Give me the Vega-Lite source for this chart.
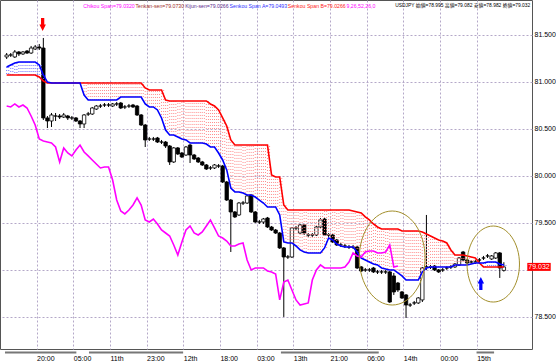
{
"$schema": "https://vega.github.io/schema/vega-lite/v6.json",
"width": 532, "height": 349,
"autosize": {"type": "none"},
"padding": {"left": 0, "top": 0, "right": 24, "bottom": 15},
"background": "white",
"config": {
 "view": {"stroke": "#555", "strokeWidth": 1},
 "axis": {"grid": true, "gridColor": "#b4a8c8", "gridDash": [2,2], "gridWidth": 1, "ticks": false, "domain": false,
  "labelFont": "Liberation Sans", "labelFontSize": 7, "labelColor": "#000", "labelFlush": false, "labelOverlap": false}
},
"datasets": {
"bars": [
{"i":0,"o":81.266,"h":81.308,"l":81.244,"c":81.287,"a":81.159,"b":81.074,"k":80.744},
{"i":1,"o":81.287,"h":81.308,"l":81.266,"c":81.287,"a":81.181,"b":81.074,"k":80.734},
{"i":2,"o":81.266,"h":81.340,"l":81.255,"c":81.319,"a":81.202,"b":81.074,"k":80.766},
{"i":3,"o":81.319,"h":81.329,"l":81.276,"c":81.298,"a":81.212,"b":81.074,"k":80.734},
{"i":4,"o":81.298,"h":81.329,"l":81.287,"c":81.319,"a":81.212,"b":81.074,"k":80.755},
{"i":5,"o":81.329,"h":81.340,"l":81.298,"c":81.308,"a":81.212,"b":81.074,"k":80.723},
{"i":6,"o":81.308,"h":81.383,"l":81.298,"c":81.361,"a":81.212,"b":81.074,"k":80.638},
{"i":7,"o":81.351,"h":81.393,"l":81.340,"c":81.372,"a":81.212,"b":81.074,"k":80.542},
{"i":8,"o":81.372,"h":81.404,"l":81.340,"c":81.361,"a":81.181,"b":81.053,"k":80.393},
{"i":9,"o":81.361,"h":81.468,"l":80.595,"c":80.617,"a":81.074,"b":81.010,"k":80.372},
{"i":10,"o":80.617,"h":80.638,"l":80.510,"c":80.585,"a":80.999,"b":80.989,"k":80.361},
{"i":11,"o":80.585,"h":80.670,"l":80.521,"c":80.649,"a":80.989,"b":80.989,"k":80.351},
{"i":12,"o":80.638,"h":80.670,"l":80.585,"c":80.638,"a":80.989,"b":80.989,"k":80.308},
{"i":13,"o":80.638,"h":80.659,"l":80.606,"c":80.627,"a":80.989,"b":80.989,"k":80.149},
{"i":14,"o":80.627,"h":80.670,"l":80.617,"c":80.649,"a":80.989,"b":80.989,"k":80.298},
{"i":15,"o":80.638,"h":80.649,"l":80.595,"c":80.617,"a":80.989,"b":80.989,"k":80.244},
{"i":16,"o":80.617,"h":80.638,"l":80.595,"c":80.617,"a":80.989,"b":80.989,"k":80.213},
{"i":17,"o":80.617,"h":80.627,"l":80.574,"c":80.585,"a":80.989,"b":80.989,"k":80.276},
{"i":18,"o":80.585,"h":80.595,"l":80.510,"c":80.553,"a":80.989,"b":80.989,"k":80.329},
{"i":19,"o":80.553,"h":80.659,"l":80.510,"c":80.649,"a":80.861,"b":80.989,"k":80.255},
{"i":20,"o":80.659,"h":80.681,"l":80.638,"c":80.659,"a":80.808,"b":80.989,"k":80.213},
{"i":21,"o":80.659,"h":80.734,"l":80.649,"c":80.723,"a":80.808,"b":80.989,"k":80.170},
{"i":22,"o":80.712,"h":80.755,"l":80.702,"c":80.744,"a":80.808,"b":80.989,"k":80.127},
{"i":23,"o":80.744,"h":80.766,"l":80.723,"c":80.744,"a":80.808,"b":80.989,"k":80.085},
{"i":24,"o":80.755,"h":80.776,"l":80.734,"c":80.755,"a":80.808,"b":80.989,"k":80.095},
{"i":25,"o":80.755,"h":80.776,"l":80.734,"c":80.755,"a":80.808,"b":80.989,"k":80.095},
{"i":26,"o":80.744,"h":80.776,"l":80.734,"c":80.766,"a":80.808,"b":80.989,"k":79.957},
{"i":27,"o":80.766,"h":80.787,"l":80.744,"c":80.766,"a":80.808,"b":80.989,"k":79.744},
{"i":28,"o":80.776,"h":80.787,"l":80.712,"c":80.723,"a":80.840,"b":80.989,"k":79.627},
{"i":29,"o":80.734,"h":80.755,"l":80.712,"c":80.734,"a":80.840,"b":80.989,"k":79.596},
{"i":30,"o":80.744,"h":80.766,"l":80.723,"c":80.744,"a":80.840,"b":80.989,"k":79.638},
{"i":31,"o":80.755,"h":80.766,"l":80.723,"c":80.734,"a":80.840,"b":80.989,"k":79.691},
{"i":32,"o":80.744,"h":80.755,"l":80.638,"c":80.649,"a":80.840,"b":80.989,"k":79.766},
{"i":33,"o":80.649,"h":80.659,"l":80.532,"c":80.542,"a":80.840,"b":80.989,"k":79.691},
{"i":34,"o":80.542,"h":80.553,"l":80.308,"c":80.383,"a":80.766,"b":80.936,"k":79.532},
{"i":35,"o":80.393,"h":80.415,"l":80.372,"c":80.393,"a":80.734,"b":80.915,"k":79.510},
{"i":36,"o":80.393,"h":80.415,"l":80.372,"c":80.393,"a":80.734,"b":80.915,"k":79.542},
{"i":37,"o":80.404,"h":80.415,"l":80.351,"c":80.361,"a":80.702,"b":80.915,"k":79.489},
{"i":38,"o":80.361,"h":80.383,"l":80.340,"c":80.361,"a":80.617,"b":80.915,"k":79.425},
{"i":39,"o":80.361,"h":80.372,"l":80.298,"c":80.319,"a":80.489,"b":80.808,"k":79.393},
{"i":40,"o":80.319,"h":80.329,"l":80.117,"c":80.149,"a":80.436,"b":80.798,"k":79.361},
{"i":41,"o":80.149,"h":80.308,"l":80.138,"c":80.298,"a":80.436,"b":80.798,"k":79.266},
{"i":42,"o":80.298,"h":80.308,"l":80.223,"c":80.234,"a":80.415,"b":80.798,"k":79.159},
{"i":43,"o":80.244,"h":80.255,"l":80.191,"c":80.202,"a":80.393,"b":80.798,"k":79.298},
{"i":44,"o":80.223,"h":80.319,"l":80.213,"c":80.308,"a":80.383,"b":80.798,"k":79.425},
{"i":45,"o":80.329,"h":80.340,"l":80.138,"c":80.223,"a":80.351,"b":80.798,"k":79.468},
{"i":46,"o":80.223,"h":80.234,"l":80.170,"c":80.181,"a":80.351,"b":80.798,"k":79.393},
{"i":47,"o":80.191,"h":80.202,"l":80.138,"c":80.149,"a":80.351,"b":80.798,"k":79.372},
{"i":48,"o":80.149,"h":80.160,"l":80.106,"c":80.117,"a":80.351,"b":80.798,"k":79.404},
{"i":49,"o":80.117,"h":80.127,"l":80.064,"c":80.074,"a":80.340,"b":80.798,"k":79.468},
{"i":50,"o":80.085,"h":80.106,"l":80.064,"c":80.085,"a":80.308,"b":80.766,"k":79.532},
{"i":51,"o":80.085,"h":80.127,"l":80.074,"c":80.117,"a":80.308,"b":80.744,"k":79.447},
{"i":52,"o":80.106,"h":80.127,"l":80.085,"c":80.106,"a":80.244,"b":80.702,"k":79.361},
{"i":53,"o":80.106,"h":80.117,"l":79.925,"c":79.936,"a":80.170,"b":80.617,"k":79.340},
{"i":54,"o":79.936,"h":79.947,"l":79.734,"c":79.744,"a":80.064,"b":80.532,"k":79.308},
{"i":55,"o":79.744,"h":79.755,"l":79.191,"c":79.617,"a":79.872,"b":80.383,"k":79.255},
{"i":56,"o":79.617,"h":79.627,"l":79.553,"c":79.564,"a":79.830,"b":80.329,"k":79.255},
{"i":57,"o":79.585,"h":79.723,"l":79.574,"c":79.712,"a":79.830,"b":80.329,"k":79.276},
{"i":58,"o":79.712,"h":79.734,"l":79.691,"c":79.712,"a":79.819,"b":80.329,"k":79.287},
{"i":59,"o":79.712,"h":79.798,"l":79.702,"c":79.787,"a":79.798,"b":80.329,"k":79.106},
{"i":60,"o":79.798,"h":79.808,"l":79.606,"c":79.617,"a":79.798,"b":80.329,"k":79.000},
{"i":61,"o":79.617,"h":79.627,"l":79.500,"c":79.510,"a":79.776,"b":80.329,"k":79.021},
{"i":62,"o":79.510,"h":79.532,"l":79.489,"c":79.510,"a":79.744,"b":80.329,"k":79.021},
{"i":63,"o":79.510,"h":79.553,"l":79.489,"c":79.542,"a":79.712,"b":80.329,"k":79.021},
{"i":64,"o":79.553,"h":79.564,"l":79.447,"c":79.457,"a":79.670,"b":80.329,"k":78.989},
{"i":65,"o":79.457,"h":79.468,"l":79.415,"c":79.425,"a":79.670,"b":80.010,"k":78.979},
{"i":66,"o":79.425,"h":79.436,"l":79.383,"c":79.393,"a":79.670,"b":79.989,"k":78.957},
{"i":67,"o":79.393,"h":79.404,"l":79.223,"c":79.234,"a":79.585,"b":79.989,"k":78.681},
{"i":68,"o":79.234,"h":79.244,"l":78.500,"c":79.138,"a":79.298,"b":79.691,"k":78.872},
{"i":69,"o":79.138,"h":79.159,"l":79.117,"c":79.138,"a":79.287,"b":79.638,"k":78.893},
{"i":70,"o":79.138,"h":79.457,"l":79.127,"c":79.447,"a":79.287,"b":79.638,"k":78.787},
{"i":71,"o":79.447,"h":79.468,"l":79.425,"c":79.447,"a":79.255,"b":79.638,"k":78.681},
{"i":72,"o":79.393,"h":79.489,"l":79.383,"c":79.479,"a":79.213,"b":79.638,"k":78.627},
{"i":73,"o":79.479,"h":79.489,"l":79.372,"c":79.393,"a":79.191,"b":79.638,"k":78.638},
{"i":74,"o":79.372,"h":79.393,"l":79.351,"c":79.372,"a":79.181,"b":79.638,"k":78.649},
{"i":75,"o":79.372,"h":79.393,"l":79.351,"c":79.372,"a":79.181,"b":79.638,"k":78.893},
{"i":76,"o":79.372,"h":79.468,"l":79.361,"c":79.457,"a":79.181,"b":79.638,"k":79.000},
{"i":77,"o":79.457,"h":79.553,"l":79.447,"c":79.532,"a":79.181,"b":79.638,"k":79.053},
{"i":78,"o":79.542,"h":79.553,"l":79.361,"c":79.372,"a":79.234,"b":79.638,"k":79.021},
{"i":79,"o":79.372,"h":79.393,"l":79.351,"c":79.372,"a":79.340,"b":79.638,"k":79.021},
{"i":80,"o":79.372,"h":79.383,"l":79.287,"c":79.298,"a":79.319,"b":79.638,"k":79.021},
{"i":81,"o":79.319,"h":79.330,"l":79.255,"c":79.266,"a":79.276,"b":79.638,"k":79.021},
{"i":82,"o":79.266,"h":79.287,"l":79.244,"c":79.266,"a":79.255,"b":79.638,"k":79.021},
{"i":83,"o":79.255,"h":79.276,"l":79.234,"c":79.255,"a":79.244,"b":79.638,"k":79.032},
{"i":84,"o":79.244,"h":79.266,"l":79.223,"c":79.244,"a":79.244,"b":79.638,"k":79.085},
{"i":85,"o":79.244,"h":79.266,"l":79.223,"c":79.244,"a":79.244,"b":79.627,"k":79.181},
{"i":86,"o":79.244,"h":79.255,"l":79.010,"c":79.021,"a":79.191,"b":79.617,"k":79.149},
{"i":87,"o":79.032,"h":79.042,"l":78.979,"c":78.989,"a":79.127,"b":79.606,"k":79.138},
{"i":88,"o":79.000,"h":79.021,"l":78.979,"c":79.000,"a":79.106,"b":79.564,"k":79.191},
{"i":89,"o":79.000,"h":79.021,"l":78.979,"c":79.000,"a":79.085,"b":79.532,"k":79.202},
{"i":90,"o":79.021,"h":79.032,"l":78.968,"c":78.979,"a":79.063,"b":79.489,"k":79.202},
{"i":91,"o":78.979,"h":79.000,"l":78.957,"c":78.979,"a":79.053,"b":79.457,"k":79.181},
{"i":92,"o":78.979,"h":79.000,"l":78.957,"c":78.979,"a":79.021,"b":79.436,"k":79.181},
{"i":93,"o":78.979,"h":79.000,"l":78.957,"c":78.979,"a":79.010,"b":79.436,"k":79.191},
{"i":94,"o":78.979,"h":78.989,"l":78.649,"c":78.659,"a":79.000,"b":79.436,"k":79.266},
{"i":95,"o":78.936,"h":78.968,"l":78.734,"c":78.766,"a":79.000,"b":79.436,"k":79.032},
{"i":96,"o":78.861,"h":78.872,"l":78.766,"c":78.787,"a":78.968,"b":79.436,"k":79.042},
{"i":97,"o":78.766,"h":78.776,"l":78.691,"c":78.702,"a":78.936,"b":79.415},
{"i":98,"o":78.734,"h":78.744,"l":78.489,"c":78.627,"a":78.893,"b":79.415},
{"i":99,"o":78.627,"h":78.649,"l":78.606,"c":78.627,"a":78.893,"b":79.415},
{"i":100,"o":78.649,"h":78.670,"l":78.627,"c":78.649,"a":78.893,"b":79.415},
{"i":101,"o":78.649,"h":78.712,"l":78.638,"c":78.702,"a":78.893,"b":79.415},
{"i":102,"o":78.681,"h":79.032,"l":78.659,"c":79.021,"a":78.979,"b":79.404},
{"i":103,"o":79.032,"h":79.585,"l":79.000,"c":79.032,"a":79.021,"b":79.383},
{"i":104,"o":79.032,"h":79.053,"l":79.010,"c":79.032,"a":79.032,"b":79.361},
{"i":105,"o":79.042,"h":79.053,"l":78.989,"c":79.000,"a":79.032,"b":79.340},
{"i":106,"o":79.000,"h":79.010,"l":78.968,"c":78.979,"a":79.032,"b":79.319},
{"i":107,"o":79.000,"h":79.021,"l":78.979,"c":79.000,"a":79.032,"b":79.308},
{"i":108,"o":79.021,"h":79.042,"l":79.000,"c":79.021,"a":79.032,"b":79.287},
{"i":109,"o":79.032,"h":79.053,"l":79.010,"c":79.032,"a":79.032,"b":79.213},
{"i":110,"o":79.032,"h":79.074,"l":79.021,"c":79.063,"a":79.053,"b":79.159},
{"i":111,"o":79.053,"h":79.138,"l":79.042,"c":79.127,"a":79.053,"b":79.159},
{"i":112,"o":79.191,"h":79.202,"l":79.095,"c":79.106,"a":79.053,"b":79.159},
{"i":113,"o":79.106,"h":79.117,"l":79.063,"c":79.074,"a":79.053,"b":79.149},
{"i":114,"o":79.085,"h":79.106,"l":79.063,"c":79.085,"a":79.063,"b":79.138},
{"i":115,"o":79.085,"h":79.106,"l":79.063,"c":79.085,"a":79.074,"b":79.127},
{"i":116,"o":79.106,"h":79.127,"l":79.085,"c":79.106,"a":79.074,"b":79.074},
{"i":117,"o":79.127,"h":79.149,"l":79.106,"c":79.127,"a":79.074,"b":79.032},
{"i":118,"o":79.149,"h":79.170,"l":79.127,"c":79.149,"a":79.085,"b":79.032},
{"i":119,"o":79.117,"h":79.159,"l":79.106,"c":79.149,"a":79.085,"b":79.032},
{"i":120,"o":79.127,"h":79.191,"l":79.117,"c":79.181,"a":79.085,"b":79.032},
{"i":121,"o":79.181,"h":79.191,"l":78.915,"c":79.021,"a":79.063,"b":79.032},
{"i":122,"o":78.995,"h":79.082,"l":78.982,"c":79.032,"a":79.053,"b":79.032}
],
"notes": [
{"name":"e1","i":94.6,"p":79.127},
{"name":"e2","i":119.4,"p":79.063},
{"name":"down","i":8.83,"p":81.611},
{"name":"up","i":116.35,"p":78.856}
],
"days": [
{"x1":-0.41,"x2":17.1},
{"x1":20.2,"x2":43.3},
{"x1":67.3,"x2":91.3},
{"x1":115.3,"x2":119.6}
]
},
"layer": [
{"data":{"name":"bars"},
 "mark":{"type":"rule","color":"#000","strokeWidth":1},
 "encoding":{
  "x":{"field":"i","type":"quantitative","title":null,"scale":{"domain":[-0.408,127.68],"nice":false,"zero":false},
   "axis":{"orient":"bottom","values":[7.34,16.34,25.34,34.34,43.34,52.34,61.34,70.34,79.34,88.34,97.34,106.34,115.34],
    "labelExpr":"['20:00','05:00','11th','23:00','12th','18:00','03:00','13th','21:00','06:00','14th','00:00','15th'][round((datum.value-7.34)/9)]",
    "labelAlign":"left","labelBaseline":"top","labelPadding":5}},
  "y":{"field":"l","type":"quantitative","title":null,"scale":{"domain":[78.159,81.872],"nice":false,"zero":false},
   "axis":{"orient":"right","values":[78.5,79,79.5,80,80.5,81,81.5],"labelExpr":"datum.value == 79 ? '' : format(datum.value, '.3f')","labelAlign":"left","labelBaseline":"middle","labelPadding":2}},
  "y2":{"field":"h"}}},
{"data":{"name":"bars"},
 "mark":{"type":"bar","size":3.4,"stroke":"#000","strokeWidth":0.8},
 "encoding":{
  "x":{"field":"i","type":"quantitative","title":null,"scale":{"domain":[-0.408,127.68],"nice":false,"zero":false}},
  "y":{"field":"o","type":"quantitative","title":null,"scale":{"domain":[78.159,81.872],"nice":false,"zero":false}},
  "y2":{"field":"c"},
  "fill":{"condition":{"test":"datum.c > datum.o","value":"#ffffff"},"value":"#000000"}}},
{"data":{"name":"bars"},
 "mark":{"type":"rule","strokeWidth":1,"strokeDash":[1,2]},
 "encoding":{
  "x":{"field":"i","type":"quantitative","title":null,"scale":{"domain":[-0.408,127.68],"nice":false,"zero":false}},
  "y":{"field":"a","type":"quantitative","title":null,"scale":{"domain":[78.159,81.872],"nice":false,"zero":false}},
  "y2":{"field":"b"},
  "color":{"condition":{"test":"datum.a > datum.b","value":"#6c6cff"},"value":"#ff8c8c"}}},
{"data":{"name":"bars"},
 "mark":{"type":"rule","strokeWidth":1,"strokeDash":[1,2],"xOffset":2.1},
 "encoding":{
  "x":{"field":"i","type":"quantitative","title":null,"scale":{"domain":[-0.408,127.68],"nice":false,"zero":false}},
  "y":{"field":"a","type":"quantitative","title":null,"scale":{"domain":[78.159,81.872],"nice":false,"zero":false}},
  "y2":{"field":"b"},
  "color":{"condition":{"test":"datum.a > datum.b","value":"#6c6cff"},"value":"#ff8c8c"}}},
{"data":{"name":"bars"},
 "mark":{"type":"line","color":"#ff0000","strokeWidth":1.6},
 "encoding":{
  "x":{"field":"i","type":"quantitative","title":null,"scale":{"domain":[-0.408,127.68],"nice":false,"zero":false}},
  "y":{"field":"b","type":"quantitative","title":null,"scale":{"domain":[78.159,81.872],"nice":false,"zero":false}}}},
{"data":{"name":"bars"},
 "mark":{"type":"line","color":"#0000ff","strokeWidth":1.6},
 "encoding":{
  "x":{"field":"i","type":"quantitative","title":null,"scale":{"domain":[-0.408,127.68],"nice":false,"zero":false}},
  "y":{"field":"a","type":"quantitative","title":null,"scale":{"domain":[78.159,81.872],"nice":false,"zero":false}}}},
{"data":{"name":"bars"},
 "mark":{"type":"line","color":"#ff00ff","strokeWidth":1.6},
 "encoding":{
  "x":{"field":"i","type":"quantitative","title":null,"scale":{"domain":[-0.408,127.68],"nice":false,"zero":false}},
  "y":{"field":"k","type":"quantitative","title":null,"scale":{"domain":[78.159,81.872],"nice":false,"zero":false}}}},
{"data":{"name":"notes"},
 "transform":[{"filter":"datum.name === 'e1'"}],
 "mark":{"type":"point","shape":"M -0.7,0 A 0.7,1 0 1,0 0.7,0 A 0.7,1 0 1,0 -0.7,0 Z","size":8836,"filled":false,"stroke":"#a38f2b","strokeWidth":1,"opacity":1},
 "encoding":{
  "x":{"field":"i","type":"quantitative","title":null,"scale":{"domain":[-0.408,127.68],"nice":false,"zero":false}},
  "y":{"field":"p","type":"quantitative","title":null,"scale":{"domain":[78.159,81.872],"nice":false,"zero":false}}}},
{"data":{"name":"notes"},
 "transform":[{"filter":"datum.name === 'e2'"}],
 "mark":{"type":"point","shape":"M -0.69,0 A 0.69,1 0 1,0 0.69,0 A 0.69,1 0 1,0 -0.69,0 Z","size":5776,"filled":false,"stroke":"#a38f2b","strokeWidth":1,"opacity":1},
 "encoding":{
  "x":{"field":"i","type":"quantitative","title":null,"scale":{"domain":[-0.408,127.68],"nice":false,"zero":false}},
  "y":{"field":"p","type":"quantitative","title":null,"scale":{"domain":[78.159,81.872],"nice":false,"zero":false}}}},
{"data":{"name":"notes"},
 "transform":[{"filter":"datum.name === 'down'"}],
 "mark":{"type":"point","shape":"M -0.25,-1 L 0.25,-1 L 0.25,0 L 0.5,0 L 0,1 L -0.5,0 L -0.25,0 Z","size":169,"filled":true,"color":"#ff0000","opacity":1},
 "encoding":{
  "x":{"field":"i","type":"quantitative","title":null,"scale":{"domain":[-0.408,127.68],"nice":false,"zero":false}},
  "y":{"field":"p","type":"quantitative","title":null,"scale":{"domain":[78.159,81.872],"nice":false,"zero":false}}}},
{"data":{"name":"notes"},
 "transform":[{"filter":"datum.name === 'up'"}],
 "mark":{"type":"point","shape":"M -0.25,1 L 0.25,1 L 0.25,0 L 0.5,0 L 0,-1 L -0.5,0 L -0.25,0 Z","size":169,"filled":true,"color":"#0000ff","opacity":1},
 "encoding":{
  "x":{"field":"i","type":"quantitative","title":null,"scale":{"domain":[-0.408,127.68],"nice":false,"zero":false}},
  "y":{"field":"p","type":"quantitative","title":null,"scale":{"domain":[78.159,81.872],"nice":false,"zero":false}}}},
{"data":{"name":"days"},
 "mark":{"type":"rule","color":"#777777","strokeWidth":2},
 "encoding":{
  "x":{"field":"x1","type":"quantitative","title":null,"scale":{"domain":[-0.408,127.68],"nice":false,"zero":false}},
  "x2":{"field":"x2"},
  "y":{"datum":78.122,"type":"quantitative","title":null,"scale":{"domain":[78.159,81.872],"nice":false,"zero":false}}}},
{"data":{"values":[{}]},
 "mark":{"type":"rect","color":"#ff0000"},
 "encoding":{
  "x":{"datum":127.75,"type":"quantitative","title":null,"scale":{"domain":[-0.408,127.68],"nice":false,"zero":false}},
  "x2":{"datum":133.5},
  "y":{"datum":79.075,"type":"quantitative","title":null,"scale":{"domain":[78.159,81.872],"nice":false,"zero":false}},
  "y2":{"datum":78.990}}},
{"data":{"values":[{}]},
 "mark":{"type":"text","text":"79.032","align":"left","baseline":"middle","color":"#ffffff","fontSize":7,"font":"Liberation Sans"},
 "encoding":{
  "x":{"datum":128.0,"type":"quantitative","title":null,"scale":{"domain":[-0.408,127.68],"nice":false,"zero":false}},
  "y":{"datum":79.032,"type":"quantitative","title":null,"scale":{"domain":[78.159,81.872],"nice":false,"zero":false}}}},
{"data":{"values":[{}]},
 "mark":{"type":"text","text":"Chikou Span=79.0320","align":"left","baseline":"middle","color":"#ff00ff","fontSize":5.2,"font":"Liberation Sans"},
 "encoding":{
  "x":{"datum":18.79,"type":"quantitative","title":null,"scale":{"domain":[-0.408,127.68],"nice":false,"zero":false}},
  "y":{"datum":81.813,"type":"quantitative","title":null,"scale":{"domain":[78.159,81.872],"nice":false,"zero":false}}}},
{"data":{"values":[{}]},
 "mark":{"type":"text","text":"Tenkan-sen=79.0730","align":"left","baseline":"middle","color":"#a0302a","fontSize":5.2,"font":"Liberation Sans"},
 "encoding":{
  "x":{"datum":31.6,"type":"quantitative","title":null,"scale":{"domain":[-0.408,127.68],"nice":false,"zero":false}},
  "y":{"datum":81.813,"type":"quantitative","title":null,"scale":{"domain":[78.159,81.872],"nice":false,"zero":false}}}},
{"data":{"values":[{}]},
 "mark":{"type":"text","text":"Kijun-sen=79.0266","align":"left","baseline":"middle","color":"#5a2a8a","fontSize":5.2,"font":"Liberation Sans"},
 "encoding":{
  "x":{"datum":43.8,"type":"quantitative","title":null,"scale":{"domain":[-0.408,127.68],"nice":false,"zero":false}},
  "y":{"datum":81.813,"type":"quantitative","title":null,"scale":{"domain":[78.159,81.872],"nice":false,"zero":false}}}},
{"data":{"values":[{}]},
 "mark":{"type":"text","text":"Senkou Span A=79.0493","align":"left","baseline":"middle","color":"#3030ff","fontSize":5.2,"font":"Liberation Sans"},
 "encoding":{
  "x":{"datum":54.7,"type":"quantitative","title":null,"scale":{"domain":[-0.408,127.68],"nice":false,"zero":false}},
  "y":{"datum":81.813,"type":"quantitative","title":null,"scale":{"domain":[78.159,81.872],"nice":false,"zero":false}}}},
{"data":{"values":[{}]},
 "mark":{"type":"text","text":"Senkou Span B=79.0266","align":"left","baseline":"middle","color":"#ff2020","fontSize":5.2,"font":"Liberation Sans"},
 "encoding":{
  "x":{"datum":69.0,"type":"quantitative","title":null,"scale":{"domain":[-0.408,127.68],"nice":false,"zero":false}},
  "y":{"datum":81.813,"type":"quantitative","title":null,"scale":{"domain":[78.159,81.872],"nice":false,"zero":false}}}},
{"data":{"values":[{}]},
 "mark":{"type":"text","text":"9,26,52,26,0","align":"left","baseline":"middle","color":"#ff00ff","fontSize":5.2,"font":"Liberation Sans"},
 "encoding":{
  "x":{"datum":83.4,"type":"quantitative","title":null,"scale":{"domain":[-0.408,127.68],"nice":false,"zero":false}},
  "y":{"datum":81.813,"type":"quantitative","title":null,"scale":{"domain":[78.159,81.872],"nice":false,"zero":false}}}},
{"data":{"values":[{}]},
 "mark":{"type":"text","text":"USDJPY 始値=78.995 高値=79.082 安値=78.982 終値=79.032","align":"left","baseline":"middle","color":"#000000","fontSize":4.9,"font":"Liberation Sans, Noto Sans CJK JP"},
 "encoding":{
  "x":{"datum":95.35,"type":"quantitative","title":null,"scale":{"domain":[-0.408,127.68],"nice":false,"zero":false}},
  "y":{"datum":81.813,"type":"quantitative","title":null,"scale":{"domain":[78.159,81.872],"nice":false,"zero":false}}}}
]
}
